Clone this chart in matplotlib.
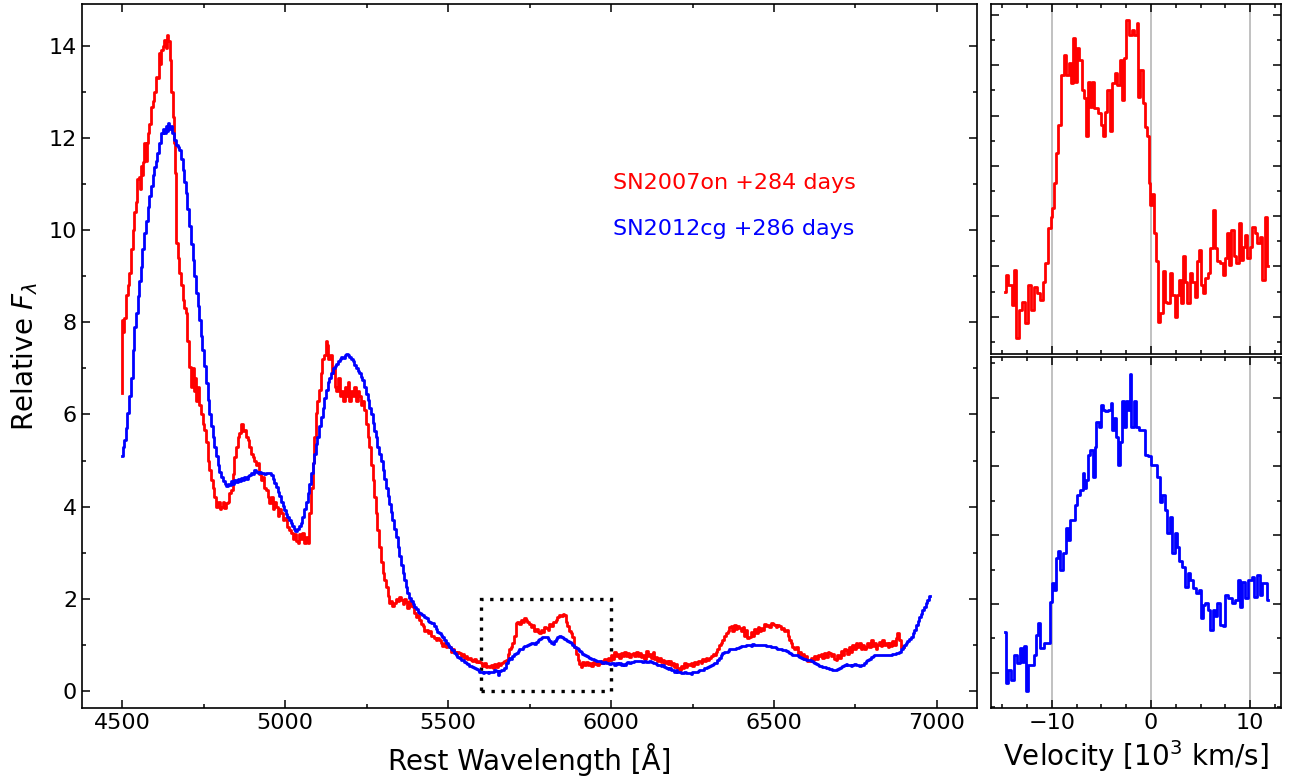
import matplotlib
matplotlib.use("Agg")
import matplotlib.pyplot as plt
from matplotlib.patches import Rectangle
from matplotlib.ticker import MultipleLocator
import numpy as np

# SN2007on +284 d (red) -- rest wavelength [A], relative flux
red_wl = [4500, 4502, 4505, 4509, 4515, 4520, 4525, 4530, 4535, 4540, 4543, 4548, 4553, 4556, 4560, 4563,
          4565, 4570, 4574, 4578, 4581, 4586, 4591, 4596, 4601, 4606, 4610, 4614, 4617, 4622, 4627, 4632,
          4636, 4640, 4644, 4649, 4653, 4657, 4660, 4663, 4665, 4668, 4673, 4678, 4683, 4688, 4693, 4698,
          4703, 4709, 4714, 4718, 4722, 4726, 4730, 4734, 4740, 4745, 4750, 4755, 4760, 4765, 4770, 4776,
          4781, 4786, 4792, 4797, 4801, 4806, 4812, 4816, 4821, 4826, 4831, 4837, 4842, 4847, 4852, 4857,
          4862, 4867, 4872, 4877, 4882, 4888, 4893, 4898, 4903, 4908, 4913, 4919, 4924, 4929, 4934, 4939,
          4944, 4949, 4954, 4960, 4965, 4970, 4975, 4980, 4985, 4990, 4995, 5000, 5005, 5010, 5015, 5021,
          5026, 5031, 5036, 5041, 5046, 5051, 5056, 5062, 5067, 5072, 5077, 5082, 5087, 5092, 5097, 5102,
          5107, 5112, 5117, 5122, 5127, 5131, 5135, 5140, 5145, 5150, 5155, 5160, 5165, 5170, 5175, 5180,
          5185, 5190, 5195, 5200, 5205, 5210, 5215, 5220, 5225, 5230, 5235, 5240, 5245, 5250, 5256, 5261,
          5266, 5271, 5276, 5281, 5286, 5291, 5297, 5302, 5307, 5312, 5317, 5322, 5327, 5332, 5337, 5343,
          5348, 5353, 5358, 5363, 5368, 5373, 5378, 5383, 5389, 5394, 5399, 5404, 5409, 5414, 5420, 5425,
          5430, 5435, 5440, 5445, 5450, 5455, 5460, 5465, 5470, 5475, 5480, 5485, 5490, 5495, 5500, 5506,
          5511, 5516, 5521, 5526, 5531, 5537, 5542, 5547, 5552, 5557, 5562, 5567, 5572, 5578, 5583, 5588,
          5593, 5598, 5603, 5608, 5613, 5618, 5624, 5629, 5634, 5639, 5645, 5650, 5655, 5660, 5665, 5670,
          5675, 5680, 5685, 5690, 5695, 5700, 5705, 5710, 5716, 5721, 5726, 5731, 5736, 5741, 5746, 5751,
          5756, 5762, 5767, 5772, 5777, 5782, 5787, 5792, 5797, 5803, 5808, 5813, 5818, 5823, 5828, 5833,
          5838, 5844, 5849, 5854, 5859, 5864, 5869, 5874, 5879, 5884, 5890, 5895, 5900, 5905, 5910, 5915,
          5920, 5925, 5931, 5936, 5941, 5946, 5951, 5956, 5961, 5966, 5971, 5976, 5982, 5987, 5992, 5997,
          6002, 6007, 6012, 6017, 6023, 6028, 6033, 6038, 6043, 6048, 6053, 6058, 6064, 6069, 6074, 6079,
          6084, 6089, 6094, 6099, 6104, 6109, 6115, 6120, 6125, 6130, 6135, 6140, 6145, 6150, 6155, 6160,
          6165, 6171, 6176, 6181, 6186, 6191, 6196, 6201, 6206, 6212, 6217, 6222, 6227, 6232, 6237, 6242,
          6247, 6252, 6258, 6263, 6268, 6273, 6278, 6283, 6288, 6293, 6298, 6304, 6309, 6314, 6319, 6324,
          6329, 6334, 6339, 6344, 6349, 6355, 6360, 6365, 6370, 6375, 6380, 6385, 6390, 6396, 6401, 6406,
          6411, 6416, 6421, 6426, 6431, 6436, 6441, 6447, 6452, 6457, 6462, 6467, 6472, 6477, 6482, 6488,
          6493, 6498, 6503, 6508, 6513, 6518, 6523, 6529, 6534, 6539, 6544, 6549, 6554, 6559, 6564, 6570,
          6575, 6580, 6585, 6590, 6595, 6600, 6605, 6610, 6616, 6621, 6626, 6631, 6636, 6641, 6646, 6651,
          6657, 6662, 6667, 6672, 6677, 6682, 6687, 6692, 6697, 6702, 6708, 6713, 6718, 6723, 6728, 6733,
          6738, 6743, 6748, 6753, 6759, 6764, 6769, 6774, 6779, 6784, 6789, 6794, 6800, 6805, 6810, 6815,
          6820, 6825, 6830, 6835, 6840, 6846, 6851, 6856, 6861, 6866, 6871, 6876, 6881, 6886, 6892, 6897,
          6900]
red_fl = [6.47, 8.05, 7.8, 8.1, 8.6, 8.8, 9.07, 9.6, 10.0, 10.4, 10.6, 11.1, 11.16, 10.9, 11.4, 11.2,
          11.48, 11.9, 11.5, 11.9, 12.1, 12.3, 12.68, 12.8, 13.0, 13.33, 13.3, 13.85, 13.6, 13.9, 14.0, 14.13,
          13.95, 14.24, 14.1, 13.7, 13.0, 12.46, 11.9, 11.24, 10.6, 9.72, 9.4, 9.07, 8.8, 8.49, 8.3, 8.2,
          7.6, 7.03, 6.6, 7.0, 6.5, 6.8, 6.3, 6.6, 6.2, 6.0, 5.8, 5.67, 5.4, 5.0, 4.8, 4.58,
          4.4, 4.2, 4.0, 4.1, 3.95, 4.0, 4.1, 3.98, 4.08, 4.1, 4.3, 4.36, 4.7, 5.08, 5.3, 5.5,
          5.6, 5.8, 5.65, 5.67, 5.5, 5.45, 5.3, 5.15, 5.08, 5.0, 4.9, 4.95, 4.7, 4.58, 4.65, 4.4,
          4.36, 4.2, 4.08, 4.2, 3.95, 4.1, 4.0, 3.8, 3.95, 3.86, 3.7, 3.75, 3.71, 3.55, 3.5, 3.43,
          3.3, 3.4, 3.25, 3.21, 3.4, 3.3, 3.43, 3.2, 3.35, 3.21, 3.86, 4.4, 4.95, 5.5, 6.03, 6.3,
          6.53, 6.9, 7.2, 7.3, 7.6, 7.5, 7.2, 7.3, 6.9, 7.0, 6.6, 6.5, 6.8, 6.4, 6.5, 6.3,
          6.6, 6.4, 6.7, 6.3, 6.5, 6.4, 6.6, 6.3, 6.5, 6.4, 6.2, 6.3, 6.1, 5.8, 5.5, 5.3,
          4.9, 4.58, 4.2, 3.86, 3.5, 3.13, 2.8, 2.56, 2.4, 2.26, 2.05, 1.9, 1.95, 1.85, 1.9, 2.0,
          1.95, 2.04, 1.98, 1.88, 2.0, 1.93, 1.8, 1.95, 1.85, 1.82, 1.7, 1.6, 1.65, 1.54, 1.45, 1.4,
          1.3, 1.32, 1.25, 1.3, 1.2, 1.2, 1.15, 1.1, 1.15, 1.1, 1.05, 0.98, 1.05, 0.95, 0.98, 0.95,
          0.85, 0.92, 0.85, 0.8, 0.85, 0.82, 0.75, 0.8, 0.72, 0.75, 0.7, 0.72, 0.68, 0.65, 0.7, 0.62,
          0.65, 0.63, 0.6, 0.55, 0.6, 0.52, 0.55, 0.52, 0.56, 0.5, 0.58, 0.52, 0.6, 0.56, 0.6, 0.62,
          0.65, 0.67, 0.8, 0.9, 0.95, 1.04, 1.2, 1.47, 1.5, 1.45, 1.55, 1.5, 1.58, 1.54, 1.5, 1.45,
          1.38, 1.42, 1.3, 1.35, 1.28, 1.26, 1.32, 1.28, 1.38, 1.37, 1.33, 1.45, 1.4, 1.5, 1.5, 1.55,
          1.6, 1.65, 1.62, 1.66, 1.65, 1.5, 1.4, 1.3, 1.25, 1.18, 0.95, 0.8, 0.67, 0.58, 0.53, 0.62,
          0.56, 0.62, 0.57, 0.61, 0.55, 0.63, 0.58, 0.62, 0.56, 0.61, 0.66, 0.6, 0.7, 0.64, 0.72, 0.68,
          0.78, 0.7, 0.85, 0.75, 0.8, 0.72, 0.82, 0.75, 0.85, 0.76, 0.82, 0.74, 0.8, 0.82, 0.75, 0.84,
          0.76, 0.83, 0.74, 0.78, 0.7, 0.86, 0.76, 0.8, 0.72, 0.85, 0.7, 0.74, 0.65, 0.72, 0.62, 0.67,
          0.6, 0.66, 0.58, 0.64, 0.56, 0.6, 0.52, 0.58, 0.5, 0.46, 0.55, 0.5, 0.6, 0.52, 0.58, 0.56,
          0.6, 0.54, 0.62, 0.58, 0.66, 0.64, 0.6, 0.7, 0.65, 0.72, 0.68, 0.71, 0.75, 0.8, 0.78, 0.85,
          0.92, 1.0, 1.05, 1.11, 1.2, 1.25, 1.3, 1.38, 1.4, 1.3, 1.42, 1.35, 1.4, 1.37, 1.3, 1.38,
          1.2, 1.32, 1.15, 1.18, 1.28, 1.2, 1.35, 1.25, 1.38, 1.3, 1.36, 1.32, 1.45, 1.4, 1.42, 1.38,
          1.47, 1.45, 1.44, 1.38, 1.42, 1.4, 1.35, 1.37, 1.3, 1.32, 1.2, 1.1, 1.05, 0.96, 0.9, 0.95,
          0.8, 0.85, 0.75, 0.8, 0.7, 0.75, 0.66, 0.64, 0.72, 0.68, 0.76, 0.7, 0.78, 0.75, 0.8, 0.72,
          0.82, 0.74, 0.85, 0.82, 0.75, 0.8, 0.7, 0.67, 0.78, 0.72, 0.86, 0.78, 0.92, 0.89, 0.8, 0.95,
          0.85, 1.0, 0.9, 1.03, 0.95, 1.05, 0.9, 1.0, 0.92, 0.96, 1.05, 0.95, 1.1, 0.98, 1.05, 0.92,
          1.0, 1.07, 0.98, 1.1, 1.0, 1.05, 0.95, 1.03, 0.98, 1.08, 1.0, 1.15, 1.25, 1.1, 0.93, 0.98,
          0.95]

# SN2012cg +286 d (blue)
blue_wl = [4500, 4505, 4509, 4514, 4519, 4525, 4530, 4535, 4540, 4545, 4550, 4555, 4560, 4565, 4571, 4576,
           4581, 4586, 4591, 4596, 4601, 4606, 4611, 4616, 4622, 4628, 4632, 4635, 4638, 4642, 4647, 4652,
           4657, 4663, 4668, 4673, 4678, 4683, 4688, 4693, 4698, 4703, 4709, 4714, 4719, 4724, 4729, 4734,
           4739, 4744, 4749, 4755, 4760, 4765, 4770, 4775, 4780, 4786, 4791, 4796, 4801, 4806, 4812, 4817,
           4822, 4827, 4831, 4837, 4842, 4847, 4852, 4857, 4862, 4867, 4872, 4877, 4882, 4888, 4893, 4898,
           4903, 4908, 4913, 4918, 4924, 4929, 4934, 4939, 4944, 4949, 4954, 4959, 4964, 4969, 4975, 4980,
           4985, 4990, 4995, 5000, 5005, 5010, 5015, 5020, 5025, 5030, 5034, 5040, 5046, 5051, 5056, 5062,
           5067, 5072, 5077, 5082, 5087, 5092, 5097, 5102, 5107, 5113, 5118, 5123, 5128, 5133, 5138, 5143,
           5150, 5155, 5160, 5165, 5170, 5175, 5180, 5185, 5190, 5195, 5200, 5205, 5210, 5215, 5220, 5225,
           5230, 5235, 5240, 5245, 5250, 5256, 5261, 5266, 5271, 5276, 5281, 5286, 5291, 5297, 5302, 5307,
           5312, 5317, 5322, 5327, 5332, 5337, 5343, 5348, 5353, 5358, 5363, 5368, 5373, 5378, 5383, 5389,
           5394, 5399, 5404, 5409, 5414, 5419, 5424, 5430, 5435, 5440, 5445, 5450, 5455, 5460, 5465, 5470,
           5475, 5480, 5486, 5491, 5496, 5501, 5506, 5511, 5516, 5521, 5526, 5531, 5537, 5542, 5547, 5552,
           5557, 5562, 5567, 5572, 5578, 5583, 5588, 5593, 5598, 5603, 5609, 5614, 5619, 5624, 5629, 5634,
           5639, 5645, 5650, 5655, 5660, 5665, 5670, 5675, 5680, 5685, 5690, 5695, 5700, 5706, 5711, 5716,
           5721, 5726, 5731, 5736, 5741, 5746, 5751, 5757, 5762, 5767, 5772, 5777, 5782, 5787, 5792, 5797,
           5803, 5808, 5813, 5818, 5823, 5828, 5833, 5838, 5844, 5849, 5854, 5859, 5864, 5869, 5874, 5879,
           5884, 5890, 5895, 5900, 5905, 5910, 5915, 5920, 5925, 5931, 5936, 5941, 5946, 5951, 5956, 5961,
           5966, 5971, 5976, 5982, 5987, 5992, 5997, 6002, 6007, 6012, 6018, 6023, 6028, 6033, 6038, 6043,
           6048, 6053, 6058, 6064, 6069, 6074, 6079, 6084, 6089, 6094, 6099, 6104, 6110, 6115, 6120, 6125,
           6130, 6135, 6140, 6145, 6150, 6155, 6160, 6166, 6171, 6176, 6181, 6186, 6191, 6196, 6201, 6206,
           6212, 6217, 6222, 6227, 6232, 6237, 6242, 6247, 6252, 6258, 6263, 6268, 6273, 6278, 6283, 6288,
           6293, 6298, 6304, 6309, 6314, 6319, 6324, 6329, 6334, 6339, 6344, 6350, 6355, 6360, 6365, 6370,
           6375, 6380, 6385, 6390, 6396, 6401, 6406, 6411, 6416, 6421, 6426, 6431, 6436, 6442, 6447, 6452,
           6457, 6462, 6467, 6472, 6477, 6482, 6488, 6493, 6498, 6503, 6508, 6513, 6518, 6523, 6529, 6534,
           6539, 6544, 6549, 6554, 6559, 6564, 6570, 6575, 6580, 6585, 6590, 6595, 6600, 6605, 6610, 6616,
           6621, 6626, 6631, 6636, 6641, 6646, 6651, 6656, 6661, 6667, 6672, 6677, 6682, 6687, 6692, 6697,
           6702, 6707, 6713, 6718, 6723, 6728, 6733, 6738, 6743, 6748, 6753, 6759, 6764, 6769, 6774, 6779,
           6784, 6789, 6794, 6800, 6805, 6810, 6815, 6820, 6825, 6830, 6835, 6840, 6846, 6851, 6856, 6861,
           6866, 6871, 6876, 6881, 6887, 6892, 6897, 6902, 6907, 6912, 6917, 6922, 6928, 6933, 6938, 6943,
           6948, 6953, 6958, 6963, 6968, 6973, 6979]
blue_fl = [5.09, 5.3, 5.45, 5.7, 6.03, 6.4, 6.8, 7.4, 7.9, 8.2, 8.56, 8.9, 9.21, 9.6, 9.93, 10.2,
           10.51, 10.75, 10.95, 11.2, 11.38, 11.5, 11.67, 11.9, 12.1, 12.2, 12.1, 12.25, 12.15, 12.33, 12.2, 12.25,
           12.1, 11.96, 11.85, 11.8, 11.74, 11.55, 11.31, 11.05, 10.8, 10.45, 10.08, 9.7, 9.36, 9.0, 8.63, 8.35,
           8.05, 7.7, 7.4, 7.05, 6.68, 6.32, 6.0, 5.75, 5.52, 5.3, 5.09, 4.9, 4.75, 4.65, 4.55, 4.5,
           4.45, 4.5, 4.47, 4.55, 4.5, 4.57, 4.54, 4.6, 4.55, 4.62, 4.58, 4.64, 4.6, 4.66, 4.69, 4.72,
           4.7, 4.8, 4.76, 4.72, 4.75, 4.73, 4.73, 4.7, 4.74, 4.72, 4.73, 4.68, 4.6, 4.51, 4.42, 4.32,
           4.22, 4.1, 4.02, 3.93, 3.85, 3.78, 3.71, 3.64, 3.58, 3.52, 3.48, 3.52, 3.57, 3.65, 3.78, 3.95,
           4.1, 4.29, 4.5, 4.72, 4.94, 5.15, 5.35, 5.52, 5.75, 5.95, 6.15, 6.35, 6.53, 6.7, 6.8, 6.9,
           7.0, 7.05, 7.1, 7.15, 7.2, 7.25, 7.22, 7.3, 7.32, 7.28, 7.25, 7.2, 7.15, 7.08, 7.0, 6.95,
           6.9, 6.82, 6.75, 6.6, 6.45, 6.32, 6.15, 6.0, 5.81, 5.65, 5.5, 5.3, 5.15, 4.98, 4.8, 4.6,
           4.4, 4.22, 4.05, 3.88, 3.71, 3.52, 3.33, 3.13, 2.93, 2.74, 2.55, 2.4, 2.25, 2.12, 2.02, 1.95,
           1.88, 1.83, 1.78, 1.72, 1.7, 1.66, 1.65, 1.6, 1.58, 1.52, 1.5, 1.48, 1.47, 1.4, 1.35, 1.28,
           1.25, 1.22, 1.18, 1.1, 1.05, 1.0, 0.95, 0.92, 0.89, 0.82, 0.78, 0.74, 0.72, 0.68, 0.67, 0.62,
           0.6, 0.58, 0.55, 0.55, 0.53, 0.5, 0.48, 0.45, 0.42, 0.4, 0.38, 0.4, 0.42, 0.38, 0.42, 0.4,
           0.42, 0.45, 0.43, 0.35, 0.44, 0.45, 0.46, 0.5, 0.6, 0.68, 0.72, 0.7, 0.75, 0.8, 0.82, 0.87,
           0.9, 0.92, 0.96, 0.98, 0.98, 1.0, 1.02, 1.05, 1.05, 1.02, 1.06, 1.1, 1.13, 1.14, 1.16, 1.17,
           1.16, 1.12, 1.08, 1.05, 1.02, 1.08, 1.12, 1.16, 1.2, 1.18, 1.15, 1.12, 1.1, 1.08, 1.07, 1.04,
           1.0, 0.96, 0.93, 0.9, 0.87, 0.84, 0.8, 0.78, 0.76, 0.74, 0.72, 0.7, 0.69, 0.67, 0.66, 0.65,
           0.64, 0.63, 0.6, 0.62, 0.6, 0.61, 0.58, 0.6, 0.6, 0.57, 0.6, 0.58, 0.6, 0.56, 0.58, 0.57,
           0.6, 0.62, 0.6, 0.63, 0.62, 0.64, 0.64, 0.66, 0.64, 0.65, 0.63, 0.64, 0.62, 0.63, 0.64, 0.62,
           0.6, 0.6, 0.58, 0.56, 0.57, 0.54, 0.56, 0.52, 0.5, 0.48, 0.5, 0.45, 0.46, 0.4, 0.46, 0.42,
           0.4, 0.38, 0.39, 0.4, 0.38, 0.38, 0.38, 0.37, 0.4, 0.4, 0.42, 0.44, 0.45, 0.45, 0.46, 0.5,
           0.5, 0.52, 0.55, 0.57, 0.58, 0.6, 0.6, 0.67, 0.72, 0.78, 0.82, 0.85, 0.85, 0.87, 0.9, 0.9,
           0.91, 0.92, 0.93, 0.94, 0.96, 0.97, 0.98, 0.98, 0.99, 1.0, 1.0, 0.98, 1.01, 1.0, 0.99, 1.0,
           0.99, 1.0, 1.0, 1.0, 0.98, 0.98, 0.97, 0.96, 0.96, 0.95, 0.94, 0.92, 0.9, 0.9, 0.89, 0.88,
           0.86, 0.84, 0.82, 0.8, 0.79, 0.78, 0.78, 0.76, 0.74, 0.72, 0.7, 0.7, 0.68, 0.68, 0.67, 0.64,
           0.62, 0.6, 0.58, 0.56, 0.55, 0.55, 0.53, 0.52, 0.5, 0.5, 0.48, 0.47, 0.46, 0.46, 0.46, 0.48,
           0.5, 0.52, 0.54, 0.56, 0.58, 0.56, 0.56, 0.55, 0.56, 0.58, 0.57, 0.56, 0.55, 0.56, 0.56, 0.6,
           0.64, 0.68, 0.7, 0.74, 0.76, 0.77, 0.78, 0.79, 0.79, 0.78, 0.79, 0.78, 0.78, 0.78, 0.78, 0.79,
           0.8, 0.8, 0.82, 0.83, 0.85, 0.9, 0.95, 1.0, 1.03, 1.08, 1.13, 1.18, 1.25, 1.33, 1.42, 1.52,
           1.61, 1.68, 1.76, 1.83, 1.9, 1.98, 2.06]

# zoom panels: velocity [10^3 km/s] around the 5600-6000 A window
red_vel = [-14.75, -14.6, -14.2, -13.9, -13.74, -13.5, -13.2, -12.9, -12.56, -12.3, -11.9, -11.65,
           -11.4, -11.04, -10.78, -10.54, -10.2, -10.03, -9.87, -9.7, -9.53, -9.3, -8.96, -8.69,
           -8.42, -8.18, -8.0, -7.85, -7.6, -7.4, -7.07, -6.94, -6.67, -6.4, -6.23, -6.0,
           -5.83, -5.6, -5.15, -4.98, -4.8, -4.58, -4.24, -4.04, -3.8, -3.54, -3.3, -3.06,
           -2.8, -2.63, -2.36, -2.12, -1.79, -1.55, -1.35, -1.21, -0.94, -0.74, -0.54, -0.27,
           -0.17, 0.0, 0.17, 0.4, 0.67, 0.81, 1.08, 1.25, 1.48, 1.75, 1.99, 2.26,
           2.49, 2.7, 2.93, 3.1, 3.33, 3.54, 3.77, 4.01, 4.27, 4.55, 4.71, 4.95,
           5.12, 5.35, 5.56, 5.86, 6.13, 6.33, 6.54, 6.8, 7.14, 7.37, 7.55, 7.75,
           7.98, 8.21, 8.48, 8.72, 8.96, 9.19, 9.43, 9.63, 9.83, 10.1, 10.37, 10.57,
           10.84, 11.1, 11.38, 11.6, 11.79]
red_zoom = [0.70, 0.766, 0.726, 0.647, 0.786, 0.516, 0.627, 0.66, 0.575, 0.726, 0.627, 0.72,
            0.694, 0.667, 0.74, 0.813, 0.952, 0.998, 1.031, 1.13, 1.25, 1.363, 1.56, 1.64,
            1.56, 1.61, 1.53, 1.71, 1.535, 1.667, 1.62, 1.50, 1.47, 1.32, 1.535, 1.435,
            1.535, 1.43, 1.41, 1.363, 1.32, 1.416, 1.50, 1.34, 1.53, 1.57, 1.52, 1.62,
            1.46, 1.63, 1.78, 1.72, 1.74, 1.72, 1.767, 1.475, 1.58, 1.45, 1.356, 1.32,
            1.13, 1.045, 1.09, 0.932, 0.82, 0.58, 0.614, 0.78, 0.66, 0.654, 0.773, 0.686,
            0.60, 0.686, 0.746, 0.654, 0.84, 0.74, 0.654, 0.773, 0.74, 0.68, 0.82, 0.866,
            0.726, 0.694, 0.753, 0.773, 0.872, 1.025, 0.872, 0.82, 0.813, 0.766, 0.834, 0.932,
            0.806, 0.945, 0.84, 0.813, 0.974, 0.826, 0.879, 0.925, 0.834, 0.879, 0.958, 0.932,
            0.892, 0.918, 0.746, 0.998, 0.80]

blue_vel = [-14.7, -14.58, -14.34, -14.0, -13.74, -13.4, -13.16, -12.96, -12.73, -12.53, -12.3, -11.9,
            -11.65, -11.48, -11.28, -11.04, -10.54, -10.2, -10.1, -9.87, -9.63, -9.53, -9.3, -9.02,
            -8.69, -8.52, -8.28, -8.08, -7.74, -7.6, -7.27, -7.0, -6.83, -6.67, -6.43, -6.26,
            -6.0, -5.76, -5.6, -5.42, -5.15, -4.98, -4.75, -4.48, -4.14, -3.97, -3.84, -3.64,
            -3.4, -3.2, -3.03, -2.86, -2.63, -2.46, -2.22, -2.05, -1.89, -1.62, -1.38, -1.11,
            -0.68, -0.5, -0.1, 0.07, 0.47, 0.74, 0.98, 1.25, 1.48, 1.75, 2.02, 2.26,
            2.49, 2.7, 2.93, 3.33, 3.6, 3.84, 4.11, 4.37, 4.68, 4.95, 5.12, 5.35,
            5.62, 5.86, 6.13, 6.3, 6.57, 6.8, 7.14, 7.47, 7.54, 7.98, 8.31, 8.66,
            8.89, 9.1, 9.33, 9.67, 10.0, 10.33, 10.57, 10.84, 11.08, 11.35, 11.62, 11.85]
blue_zoom = [0.52, 0.37, 0.409, 0.38, 0.452, 0.428, 0.472, 0.433, 0.477, 0.346, 0.423, 0.423,
             0.452, 0.51, 0.544, 0.472, 0.486, 0.486, 0.607, 0.66, 0.641, 0.733, 0.753, 0.70,
             0.748, 0.82, 0.787, 0.845, 0.845, 0.888, 0.917, 0.932, 0.98, 0.937, 0.96, 1.034,
             1.048, 0.97, 1.058, 1.13, 1.116, 1.18, 1.165, 1.16, 1.165, 1.184, 1.107, 1.14,
             1.087, 1.005, 1.072, 1.19, 1.116, 1.19, 1.165, 1.27, 1.116, 1.19, 1.116, 1.107,
             1.107, 1.034, 1.03, 1.005, 1.005, 0.97, 0.898, 0.917, 0.874, 0.806, 0.854, 0.748,
             0.806, 0.767, 0.724, 0.709, 0.651, 0.69, 0.67, 0.646, 0.632, 0.641, 0.559, 0.598,
             0.602, 0.583, 0.525, 0.583, 0.564, 0.602, 0.54, 0.535, 0.627, 0.617, 0.602, 0.612,
             0.67, 0.593, 0.665, 0.617, 0.67, 0.68, 0.622, 0.685, 0.627, 0.661, 0.661, 0.612]

labels = ["SN2007on +284 days", "SN2012cg +286 days"]
vel_marks = [-10, 0, 10]
box_wl = (5600, 6000)
box_fl = (0, 2)


def style_ticks(ax):
    ax.tick_params(which="both", direction="in", top=True, right=True, width=1.1)
    ax.tick_params(which="major", length=5.5, labelsize=16)
    ax.tick_params(which="minor", length=3)
    for s in ax.spines.values():
        s.set_linewidth(1.2)


fig = plt.figure(figsize=(12.89, 7.78), dpi=100)

ax = fig.add_axes([0.0636, 0.09, 0.6944, 0.905])
ax.plot(red_wl, red_fl, color="red", lw=2, drawstyle="steps-mid")
ax.plot(blue_wl, blue_fl, color="blue", lw=2, drawstyle="steps-mid")
ax.add_patch(Rectangle((box_wl[0], box_fl[0]), box_wl[1] - box_wl[0], box_fl[1] - box_fl[0],
                       fill=False, edgecolor="black", lw=2.4, linestyle=(0, (1, 2))))
ax.set_xlim(4377, 7123)
ax.set_ylim(-0.37, 14.91)
ax.xaxis.set_major_locator(MultipleLocator(500))
ax.xaxis.set_minor_locator(MultipleLocator(250))
ax.yaxis.set_major_locator(MultipleLocator(2))
ax.yaxis.set_minor_locator(MultipleLocator(1))
style_ticks(ax)
ax.set_xlabel("Rest Wavelength [Å]", fontsize=20, labelpad=7)
ax.set_ylabel(r"Relative $F_\lambda$", fontsize=20, labelpad=6)
ax.text(0.593, 0.746, labels[0], color="red", fontsize=16, transform=ax.transAxes,
        ha="left", va="center")
ax.text(0.593, 0.680, labels[1], color="blue", fontsize=16, transform=ax.transAxes,
        ha="left", va="center")

ax_top = fig.add_axes([0.7688, 0.545, 0.225, 0.45])
ax_bot = fig.add_axes([0.7688, 0.09, 0.225, 0.451])
ax_top.plot(red_vel, red_zoom, color="red", lw=2, drawstyle="steps-mid")
ax_bot.plot(blue_vel, blue_zoom, color="blue", lw=2, drawstyle="steps-mid")
ax_top.set_ylim(0.452, 1.844)
ax_bot.set_ylim(0.298, 1.318)
for a in (ax_top, ax_bot):
    for v in vel_marks:
        a.axvline(v, color="#b0b0b0", lw=1.1, zorder=0)
    a.set_xlim(-16.16, 13.13)
    a.xaxis.set_major_locator(MultipleLocator(10))
    a.xaxis.set_minor_locator(MultipleLocator(2.5))
    a.yaxis.set_major_locator(MultipleLocator(0.2))
    a.yaxis.set_minor_locator(MultipleLocator(0.1))
    style_ticks(a)
    a.set_yticklabels([])
ax_top.set_xticklabels([])
ax_bot.set_xlabel(r"Velocity [$10^3$ km/s]", fontsize=20)

fig.savefig("out.png", dpi=100)
